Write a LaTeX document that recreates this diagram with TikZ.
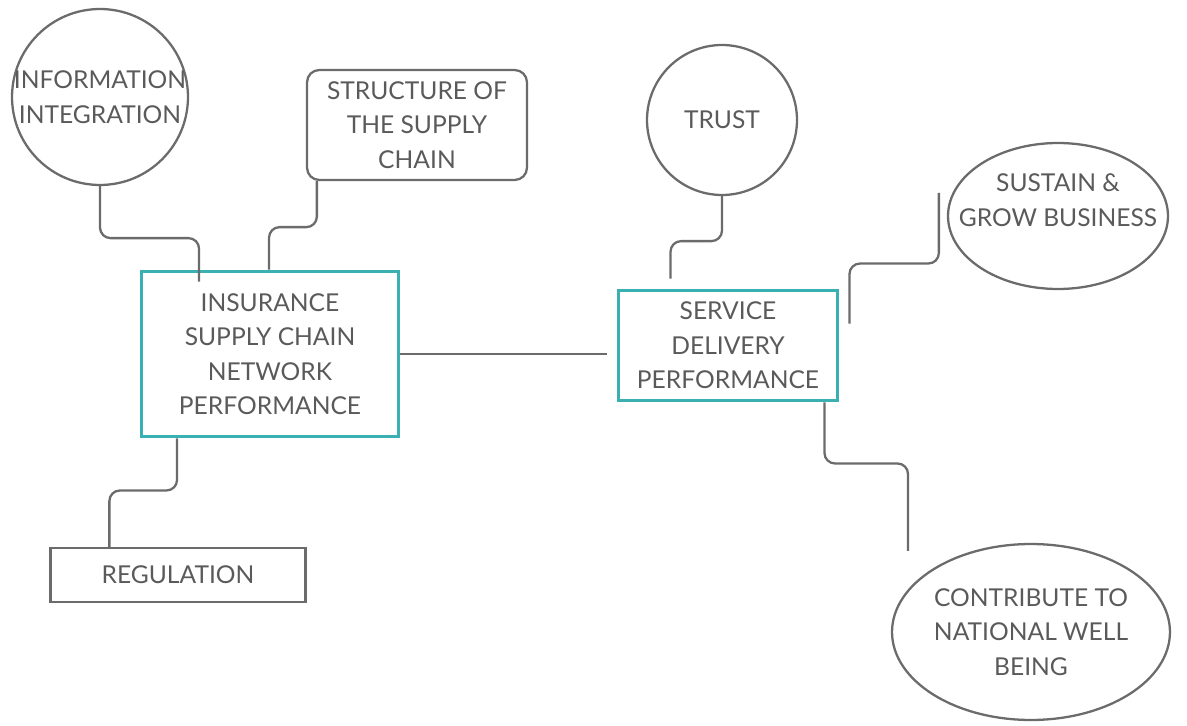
\documentclass[tikz,border=0pt]{standalone}
\usepackage{fontspec}
\setmainfont{Lato}
\usetikzlibrary{shapes.geometric,calc}

\definecolor{linegray}{HTML}{6B6B6B}
\definecolor{textgray}{HTML}{5A5A5A}
\definecolor{boxteal}{HTML}{3AB0B2}

\tikzset{
  txt/.style={text=textgray, align=center, font=\fontsize{14}{19.6}\selectfont},
  bubble/.style={draw=linegray, line width=1.3pt, circle, inner sep=0pt},
  oval/.style={draw=linegray, line width=1.3pt, ellipse, inner sep=0pt},
  mainbox/.style={draw=boxteal, line width=1.7pt, txt},
  plainbox/.style={draw=linegray, line width=1.3pt, txt},
  link/.style={draw=linegray, line width=1.3pt, rounded corners=6pt},
}

\begin{document}
\begin{tikzpicture}[x=0.02cm,y=-0.02cm]
\useasboundingbox (0,0) rectangle (1187,726);

% the two performance boxes
\node[mainbox, minimum width=5.14cm, minimum height=3.32cm] (ins) at (270,354)
  {INSURANCE\\SUPPLY CHAIN\\NETWORK\\PERFORMANCE};
\node[mainbox, minimum width=4.4cm, minimum height=2.22cm] (svc) at (728,345.5)
  {SERVICE\\DELIVERY\\PERFORMANCE};

% factors on the left
\node[bubble, minimum size=3.52cm,
  label={[txt]center:{INFORMATION\\INTEGRATION}}] (info) at (100,97) {};
\node[plainbox, rounded corners=7pt, minimum width=4.4cm, minimum height=2.2cm] (struct) at (417,125)
  {STRUCTURE OF\\THE SUPPLY\\CHAIN};
\node[plainbox, minimum width=5.1cm, minimum height=1.08cm] (reg) at (178,575) {REGULATION};

% outcomes on the right
\node[bubble, minimum size=3cm, label={[txt]center:TRUST}] (trust) at (722,120) {};
\node[oval, minimum width=4.4cm, minimum height=2.92cm,
  label={[txt,yshift=0.32cm]center:{SUSTAIN \&\\GROW BUSINESS}}] (sustain) at (1058,216) {};
\node[oval, minimum width=5.56cm, minimum height=3.52cm,
  label={[txt]center:{CONTRIBUTE TO\\NATIONAL WELL\\BEING}}] (contr) at (1031,632) {};

% links
\draw[link] (info.south) -- ++(0,52) -| ($(ins.north west)+(59,12)$);
\draw[link] ($(struct.south west)+(11,0)$) -- ++(0,46) -| ($(ins.north west)+(129,0)$);
\draw[link] (ins.east) -- ($(ins.east -| svc.west)+(-10,0)$);
\draw[link] ($(ins.south west)+(37,0)$) -- ++(0,52) -| ($(reg.north west)+(60,0)$);
\draw[link] (trust.south) -- ++(0,45) -| ($(svc.north west)+(54,-10)$);
\draw[link] ($(svc.north east)+(10,35)$) -- ++(0,-60) -| ($(sustain.west)+(-8,-23)$);
\draw[link] ($(svc.south east)+(-15,0)$) -- ++(0,61) -| ($(contr.north)+(-123,8)$);
\end{tikzpicture}
\end{document}
